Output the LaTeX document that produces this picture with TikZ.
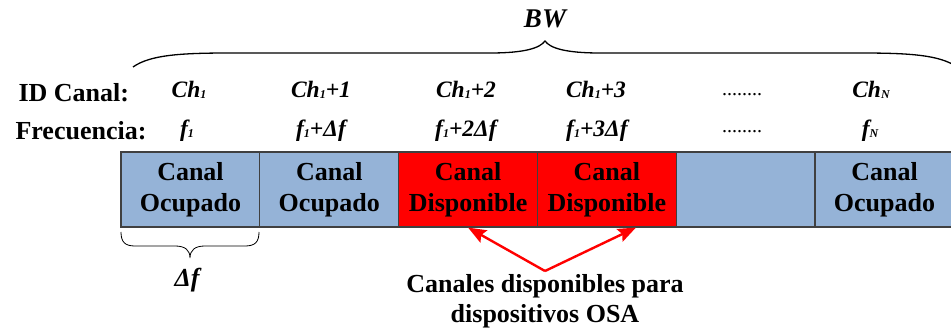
\documentclass[tikz,border=0pt]{standalone}
\usepackage{fontspec}
\setmainfont{Liberation Serif}
\usetikzlibrary{positioning,arrows.meta}
\definecolor{ocupblue}{HTML}{95B3D7}
\definecolor{librered}{HTML}{FF0000}
\definecolor{edgegray}{HTML}{404040}
\newcommand{\lo}[1]{\raisebox{-1pt}{\fontsize{12}{12}\selectfont #1}}
\tikzset{
  canal/.style={draw=edgegray, line width=1.2pt, minimum width=139pt, minimum height=75pt, inner sep=0pt, align=center, font=\fontsize{26}{30.5}\selectfont\bfseries},
  ocupado/.style={canal, fill=ocupblue},
  libre/.style={canal, fill=librered},
  idtxt/.style={anchor=base, font=\fontsize{23.5}{23.5}\selectfont\bfseries\itshape},
  rowtxt/.style={anchor=base west, font=\fontsize{26}{26}\selectfont\bfseries},
  puntos/.style={anchor=base, font=\fontsize{20}{20}\selectfont},
  flecha/.style={draw=librered, line width=2.4pt, -{Stealth[length=18pt,width=14pt,inset=3pt]}},
  llave/.style={draw=black, line width=1.3pt},
}
\begin{document}
\begin{tikzpicture}[x=1pt,y=-1pt]
        \useasboundingbox (0,0) rectangle (951,331);

        % canales
        \node[ocupado] (c1) at (190.5,189.5) {Canal\\Ocupado};
        \node[ocupado, right of=c1, node distance=138.8pt] (c2) {Canal\\Ocupado};
        \node[libre, right of=c2, node distance=138.8pt] (c3) {Canal\\Disponible};
        \node[libre, right of=c3, node distance=138.8pt] (c4) {Canal\\Disponible};
        \node[ocupado, right of=c4, node distance=138.8pt] (c5) {};
        \node[ocupado, right of=c5, node distance=138.8pt] (c6) {Canal\\Ocupado};

        % filas de texto
        \node[rowtxt] (idlbl) at (15,102) {ID Canal:};
        \node[rowtxt] (freqlbl) at (12,140) {Frecuencia:};
        \node[idtxt] (ch1) at (189,98) {Ch\lo{1}};
        \node[idtxt] (ch2) at (321,98) {Ch\lo{1}+1};
        \node[idtxt] (ch3) at (466,98) {Ch\lo{1}+2};
        \node[idtxt] (ch4) at (596,98) {Ch\lo{1}+3};
        \node[puntos] (chdots) at (742,96) {........};
        \node[idtxt] (chn) at (871,98) {Ch\lo{N}};
        \node[idtxt] (f1) at (187,137) {f\lo{1}};
        \node[idtxt] (f2) at (321,137) {f\lo{1}+Δf};
        \node[idtxt] (f3) at (466,137) {f\lo{1}+2Δf};
        \node[idtxt] (f4) at (597,137) {f\lo{1}+3Δf};
        \node[puntos] (fdots) at (742,133) {........};
        \node[idtxt] (fn) at (870,137) {f\lo{N}};

        % llaves
        \node[idtxt, font=\fontsize{27}{27}\selectfont\bfseries\itshape] (bw) at (545,28) {BW};
        \draw[llave] (133,67) .. controls (150,55) and (180,53) .. (230,53) -- (490,53)
            .. controls (525,53) and (540,48) .. (545,41) .. controls (550,48) and (565,53) .. (600,53)
            -- (860,53) .. controls (910,53) and (940,55) .. (957,67);
        \draw[llave, line width=0.8pt] (121,232) .. controls (121,242) and (125,246) .. (135,246) -- (175,246)
            .. controls (185,246) and (190,250) .. (190,258) .. controls (190,250) and (195,246) .. (205,246)
            -- (245,246) .. controls (255,246) and (259,242) .. (259,232);
        \node[idtxt, font=\fontsize{26}{26}\selectfont\bfseries\itshape] (df) at (187,287) {Δf};

        % canales libres para OSA
        \node[align=center, inner sep=3pt, font=\fontsize{26}{30}\selectfont\bfseries] (osa) at (545,301) {Canales disponibles para\\dispositivos OSA};
        \draw[flecha] (osa.north) -- (c3.south);
        \draw[flecha] (osa.north) -- ([xshift=29pt]c4.south);
\end{tikzpicture}
\end{document}
